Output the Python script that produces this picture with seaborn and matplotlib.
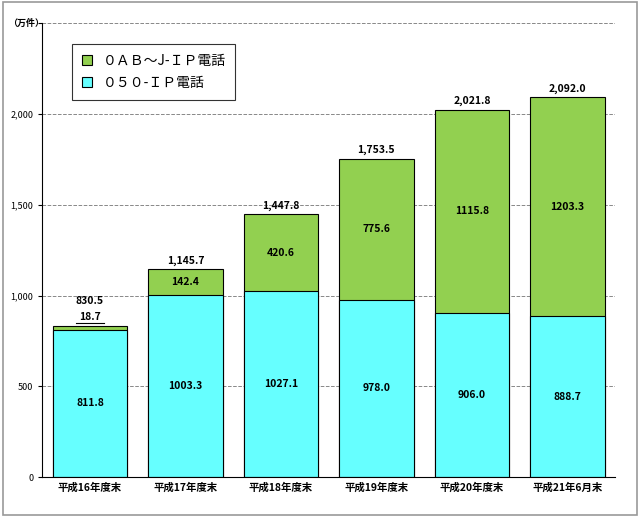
import matplotlib
matplotlib.use("Agg")
import matplotlib.pyplot as plt
import seaborn as sns
import pandas as pd
from matplotlib.patches import Rectangle

plt.rcParams["font.family"] = ["Noto Sans CJK JP", "DejaVu Sans"]

categories = ["平成16年度末", "平成17年度末", "平成18年度末", "平成19年度末", "平成20年度末", "平成21年6月末"]
ip050 = [811.8, 1003.3, 1027.1, 978.0, 906.0, 888.7]
oabj = [18.7, 142.4, 420.6, 775.6, 1115.8, 1203.3]
totals = ["830.5", "1,145.7", "1,447.8", "1,753.5", "2,021.8", "2,092.0"]
yticks = [0, 500, 1000, 1500, 2000, 2500]
ytick_labels = ["0", "500", "1,000", "1,500", "2,000", ""]

green = "#92D050"
cyan = "#66FFFF"

fig = plt.figure(figsize=(6.4, 5.17), dpi=100)
fig.patches.append(Rectangle((0.004, 0.004), 0.992, 0.992, transform=fig.transFigure,
                             fill=False, edgecolor="#999999", lw=1.2))
ax = fig.add_axes([0.066, 0.077, 0.895, 0.878])

df = pd.DataFrame({"cat": categories, "ip050": ip050,
                   "total": [a + b for a, b in zip(ip050, oabj)]})
sns.barplot(data=df, x="cat", y="total", color=green, edgecolor="black", linewidth=0.8,
            width=0.78, saturation=1, ax=ax, label="０ＡＢ～J-ＩＰ電話")
sns.barplot(data=df, x="cat", y="ip050", color=cyan, edgecolor="black", linewidth=0.8,
            width=0.78, saturation=1, ax=ax, label="０５０-ＩＰ電話")

fw = "bold"
for i in range(len(categories)):
    ax.text(i, ip050[i] / 2, f"{ip050[i]:.1f}", ha="center", va="center", fontsize=7.5, fontweight=fw)
    if oabj[i] > 50:
        ax.text(i, ip050[i] + oabj[i] / 2, f"{oabj[i]:.1f}", ha="center", va="center", fontsize=7.5, fontweight=fw)
    else:
        ax.text(i, ip050[i] + oabj[i] + 25, f"{oabj[i]:.1f}", ha="center", va="bottom", fontsize=7.5, fontweight=fw)
        ax.plot([i - 0.15, i + 0.15], [ip050[i] + oabj[i] + 20] * 2, color="black", lw=0.8)
    ypos = ip050[i] + oabj[i] + (110 if oabj[i] < 50 else 20)
    ax.text(i, ypos, totals[i], ha="center", va="bottom", fontsize=7.5, fontweight=fw)

ax.set_ylim(0, 2500)
ax.set_xlim(-0.5, 5.5)
ax.set_yticks(yticks)
ax.set_yticklabels(ytick_labels, fontsize=6.5)
ax.yaxis.grid(True, linestyle="--", color="#888888", lw=0.7)
ax.set_axisbelow(True)
for s in ["top", "right"]:
    ax.spines[s].set_visible(False)
ax.tick_params(axis="x", labelsize=7.5, length=0)
for t in ax.get_xticklabels():
    t.set_fontweight("bold")
ax.tick_params(axis="y", length=3)
ax.set_xlabel("")
ax.set_ylabel("")
fig.text(0.012, 0.955, "（万件）", fontsize=6.5, va="center", ha="left", fontweight="bold")

h, l = ax.get_legend_handles_labels()
leg = ax.legend(h, l, loc="upper left", bbox_to_anchor=(0.04, 0.97), fontsize=10,
                frameon=True, fancybox=False, edgecolor="black", handlelength=0.7,
                handleheight=0.7, borderpad=0.7, labelspacing=0.6)
leg.get_frame().set_linewidth(0.8)

fig.savefig("out.png", dpi=100)
